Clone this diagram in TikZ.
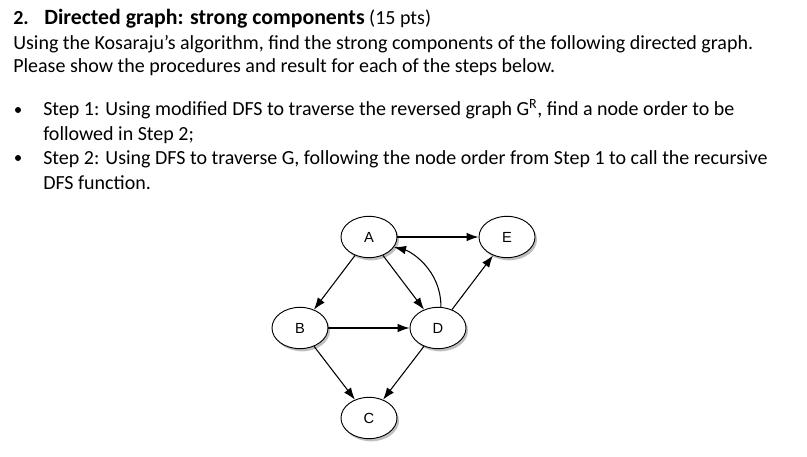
\documentclass[tikz,border=0pt]{standalone}
\usepackage{fontspec}
\setmainfont{Carlito}
\newfontfamily\vertexfont{Liberation Sans}
\usetikzlibrary{arrows.meta,shadows,shapes.geometric}
\tikzset{
	vertex/.style={draw,ellipse,fill=white,line width=0.7pt,inner sep=0pt,
		minimum width=42pt,minimum height=31pt,
		font=\vertexfont\fontsize{11}{11}\selectfont,
		drop shadow={shadow xshift=1.5pt,shadow yshift=-2pt,fill=black!50,opacity=0.5}},
	textline/.style={anchor=base west,inner sep=0pt,font=\fontsize{15}{18}\selectfont},
	link/.style={->,line width=0.8pt}
}
\begin{document}
\begin{tikzpicture}[x=0.75pt,y=-0.75pt,>={Latex[length=9pt,width=6.5pt]}]
	\useasboundingbox (0,0) rectangle (807,457);
	% question text
	\node[textline] (num) at (13,24) {\textbf{2.}};
	\node[textline] (title) at (44,24) {\fontsize{16.35}{18}\selectfont\textbf{Directed graph: strong components}\fontsize{15}{18}\selectfont{} (15 pts)};
	\node[textline] (introA) at (13,49) {Using the Kosaraju's algorithm, find the strong components of the following directed graph.};
	\node[textline] (introB) at (13,72) {Please show the procedures and result for each of the steps below.};
	\fill (18,110) circle (3);
	\fill (18,158) circle (3);
	\node[textline] (stepA) at (43,115) {Step 1: Using modified DFS to traverse the reversed graph G\textsuperscript{R}, find a node order to be};
	\node[textline] (stepAb) at (43,140) {followed in Step 2;};
	\node[textline] (stepB) at (43,164) {Step 2: Using DFS to traverse G, following the node order from Step 1 to call the recursive};
	\node[textline] (stepBb) at (43,189) {DFS function.};
	% graph
	\node[vertex] (A) at (369,237) {A};
	\node[vertex] (E) at (507,237) {E};
	\node[vertex] (B) at (300,328) {B};
	\node[vertex] (D) at (438,328) {D};
	\node[vertex] (C) at (369,418) {C};
	\draw[link] (A) -- (E);
	\draw[link] (A) -- (B);
	\draw[link] (A) -- (D);
	\draw[link] (B) -- (D);
	\draw[link] (B) -- (C);
	\draw[link] (D) -- (C);
	\draw[link] (D) -- (E);
	\draw[link] (D.82) .. controls +(0,-38) and +(16,4) .. (A.-22);
\end{tikzpicture}
\end{document}
